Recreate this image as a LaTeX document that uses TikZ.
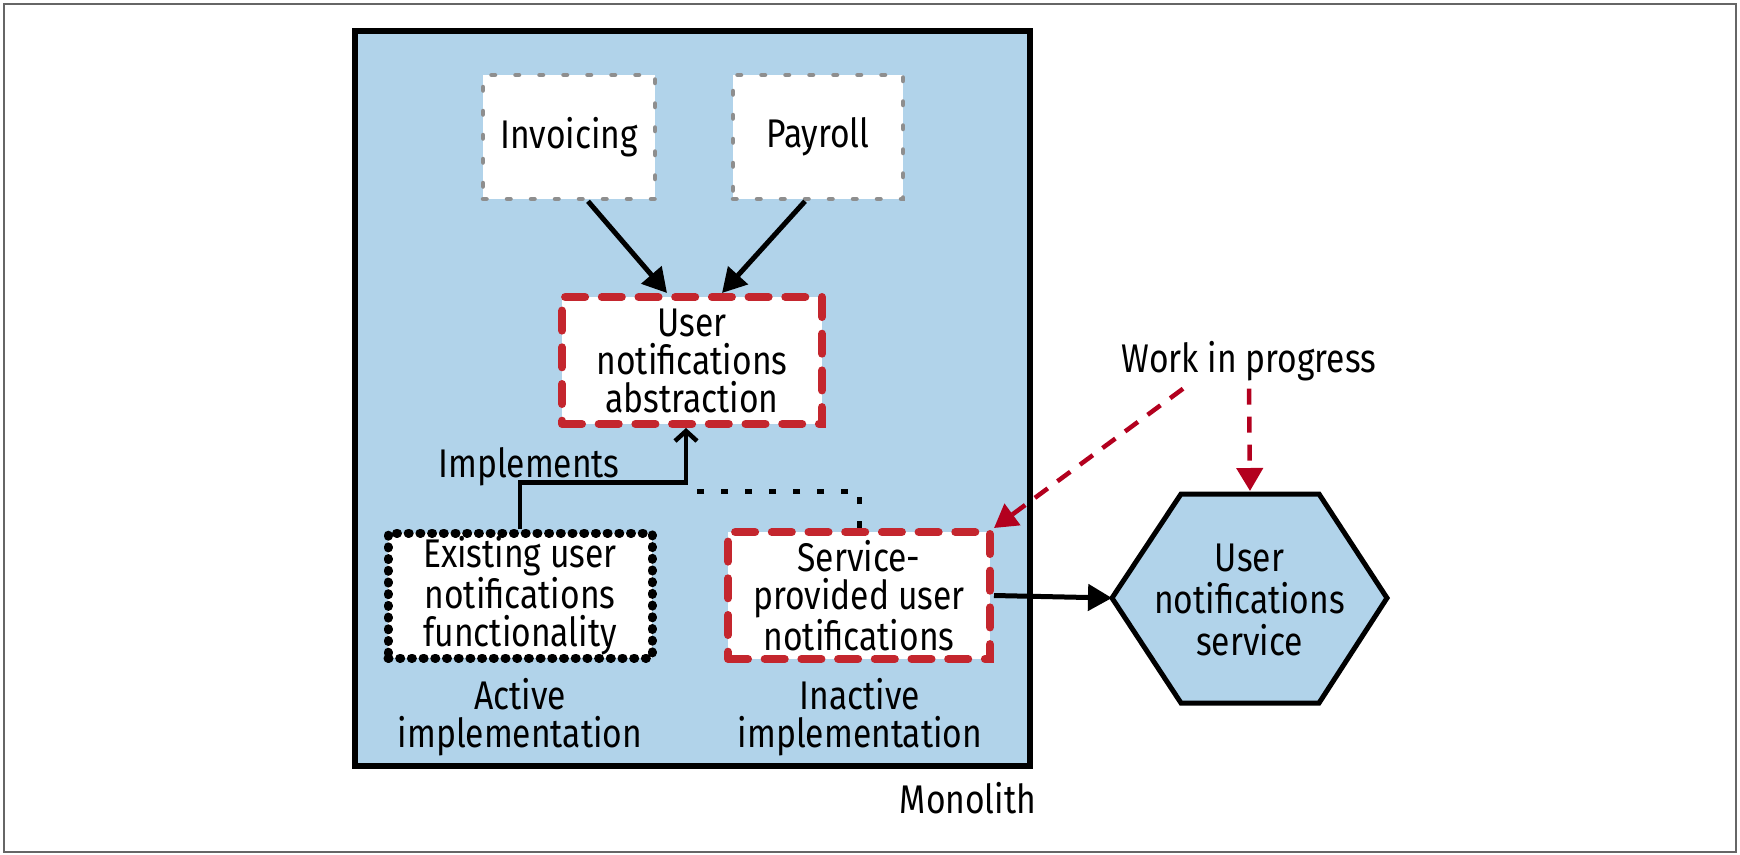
\documentclass[tikz,border=0pt]{standalone}
\usepackage{fontspec}
\setmainfont{Fira Sans}[FakeStretch=0.84]
\usetikzlibrary{arrows.meta,calc}
\definecolor{mblue}{HTML}{B1D3EA}
\definecolor{boxred}{HTML}{C4262E}
\definecolor{arrred}{HTML}{B3001E}
\definecolor{dgray}{HTML}{8E8E8E}
\definecolor{framegray}{HTML}{666666}
\newcommand\dfont{\fontsize{40}{38}\selectfont}
\begin{document}
\begin{tikzpicture}[x=1pt,y=-1pt,font=\dfont,
  basebox/.style={fill=white, inner sep=0pt, align=center},
  graybox/.style={basebox, draw=dgray, line width=4.5pt, dash pattern=on 3.5pt off 20.5pt, line cap=round},
  redbox/.style={basebox, draw=boxred, line width=8pt, dash pattern=on 20pt off 16.7pt, line cap=round},
  dotbox/.style={basebox, draw=black, line width=9pt, dash pattern=on 1pt off 10.7pt, line cap=round},
  blkarrow/.style={draw=black, line width=5pt, -{Triangle[length=24pt,width=26pt]}},
  redarrow/.style={draw=arrred, line width=4.5pt, dash pattern=on 16pt off 12pt, -{Triangle[length=23pt,width=26pt]}},
  implline/.style={draw=black, line width=4.5pt, -{Straight Barb[length=10pt,width=22pt]}},
  inactline/.style={draw=black, line width=5pt, dash pattern=on 7pt off 17pt},
  plainlbl/.style={inner sep=0pt, align=center}]
\useasboundingbox (0,0) rectangle (1740,854);
\draw[framegray, line width=2pt] (4,4) rectangle (1736,852);

\node[draw=black, line width=5.5pt, fill=mblue, minimum width=675pt, minimum height=735pt, inner sep=0pt] (mono) at (692.5,398.5) {};

\node[graybox, minimum width=172pt, minimum height=124pt] (inv) at (569,137) {Invoicing};
\node[graybox, minimum width=170pt, minimum height=124pt] (pay) at (818,137) {Payroll};
\node[redbox, minimum width=260pt, minimum height=127pt] (abs) at (692,360.5) {User\\notifications\\abstraction};
\node[dotbox, minimum width=264pt, minimum height=125pt] (ex) at (520,595.5) {Existing user\\notifications\\functionality};
\node[redbox, minimum width=262pt, minimum height=127pt] (srv) at (859,595.5) {Service-\\provided user\\notifications};

\draw[blkarrow] ([xshift=19pt]inv.south) -- ([xshift=-25pt]abs.north);
\draw[blkarrow] ([xshift=-13pt]pay.south) -- ([xshift=30pt]abs.north);

\node[plainlbl] (impl) at (529,467) {Implements};
\draw[implline] (ex.north) -- ++(0,-46) -| ([xshift=-6pt]abs.south);
\coordinate (dotend) at (697,491);
\draw[inactline] (srv.north) |- (dotend);

\node[plainlbl] (act) at (520,717) {Active\\implementation};
\node[plainlbl] (inact) at (860,717) {Inactive\\implementation};
\node[anchor=base, inner sep=0pt] (monolbl) at (968,813) {Monolith};

\coordinate (hexW) at (1112,598);
\coordinate (hexNW) at (1181,494);
\coordinate (hexNE) at (1319,494);
\coordinate (hexE) at (1387,598);
\coordinate (hexSE) at (1319,703);
\coordinate (hexSW) at (1181,703);
\coordinate (hexN) at (1250,491);
\draw[line width=5pt, fill=mblue, line join=miter] (hexW) -- (hexNW) -- (hexNE) -- (hexE) -- (hexSE) -- (hexSW) -- cycle;
\node[plainlbl, font=\fontsize{40}{42}\selectfont] (hex) at (1249.5,600) {User\\notifications\\service};

\draw[blkarrow] (srv.east) -- (hexW);

\node[anchor=base, inner sep=0pt] (wip) at (1249,372) {Work in progress};
\draw[redarrow] ([xshift=-66pt,yshift=-8pt]wip.south) -- (srv.north east);
\draw[redarrow] ([yshift=-8pt]wip.south) -- (hexN);
\end{tikzpicture}
\end{document}
